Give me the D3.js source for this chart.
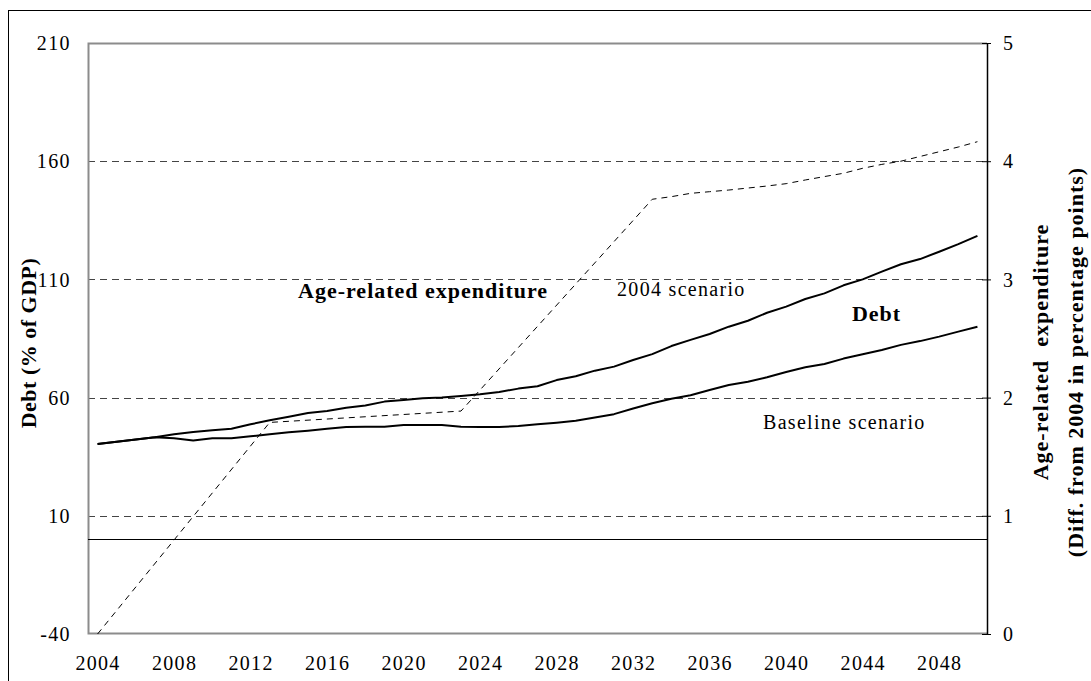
<!DOCTYPE html>
<html>
<head>
<meta charset="utf-8">
<script src="https://cdn.jsdelivr.net/npm/d3@7"></script>
<style>
  body { margin: 0; background: #fff; }
  svg text { font-family: "Liberation Serif", "Times New Roman", serif; fill: #000; }
</style>
</head>
<body>
<div id="plot_area"></div>
<script>
// data
var years = d3.range(2004, 2051);
var tickYears = [2004, 2008, 2012, 2016, 2020, 2024, 2028, 2032, 2036, 2040, 2044, 2048];
var debtTicks = [-40, 10, 60, 110, 160, 210];
var expTicks = [0, 1, 2, 3, 4, 5];

// debt, 2004 scenario (% of GDP)
var debt2004 = [40.4, 41.3, 42.3, 43.2, 44.5, 45.4, 46.2, 46.8, 48.7, 50.4,
  51.9, 53.5, 54.3, 55.7, 56.7, 58.3, 59.0, 59.7, 60.0, 60.7,
  61.4, 62.4, 63.8, 64.8, 67.4, 69.0, 71.4, 73.1, 75.9, 78.4,
  81.8, 84.4, 86.9, 90.0, 92.5, 95.9, 98.5, 101.7, 104.1, 107.5,
  110.0, 113.3, 116.4, 118.6, 121.7, 124.9, 128.4];

// debt, baseline scenario (% of GDP)
var debtBase = [40.4, 41.3, 42.3, 43.2, 42.8, 41.9, 42.8, 42.8, 43.6, 44.5,
  45.3, 46.0, 46.8, 47.6, 47.7, 47.7, 48.4, 48.4, 48.4, 47.7,
  47.6, 47.6, 48.0, 48.7, 49.4, 50.2, 51.6, 53.0, 55.4, 57.6,
  59.5, 61.0, 63.2, 65.3, 66.7, 68.6, 70.8, 72.8, 74.2, 76.5,
  78.3, 80.1, 82.3, 83.9, 85.8, 87.9, 90.0];

var expYears = [2004, 2013, 2023, 2033, 2034, 2035, 2036, 2037, 2038, 2039, 2040,
  2041, 2042, 2043, 2044, 2045, 2046, 2047, 2048, 2049, 2050];
var expValues = [0, 1.79, 1.886, 3.678, 3.70, 3.728, 3.742, 3.756, 3.773, 3.79, 3.81,
  3.841, 3.87, 3.898, 3.94, 3.973, 4.00, 4.04, 4.08, 4.12, 4.165];

var W = 1091, H = 681;
var margin = {top: 43, right: 104, bottom: 47, left: 88};
var width = W - margin.left - margin.right,
    height = H - margin.top - margin.bottom;

var svg = d3.select('#plot_area')
  .append("svg")
    .attr("width", W)
    .attr("height", H);

// outer frame (runs past right and bottom edges)
svg.append("rect")
  .attr("x", 8.5).attr("y", 10.5)
  .attr("width", 1100).attr("height", 700)
  .attr("fill", "none").attr("stroke", "#000").attr("stroke-width", 1);

var g = svg.append("g")
  .attr("transform", "translate(" + margin.left + "," + margin.top + ")");

var x = d3.scalePoint()
  .domain(years)
  .range([0, width])
  .padding(0.5);

// continuous year scale for the text labels
var xl = d3.scaleLinear()
  .domain([2003.5, 2050.5])
  .range([0, width]);

var yL = d3.scaleLinear().domain([-40, 210]).range([height, 0]);
var yR = d3.scaleLinear().domain([0, 5]).range([height, 0]);

// dashed gridlines
g.append("g")
  .selectAll("line")
  .data(debtTicks.filter(function (d) { return d > -40 && d < 210; }))
  .enter().append("line")
    .attr("x1", 0).attr("x2", width)
    .attr("y1", function (d) { return Math.round(yL(d)) + 0.5; })
    .attr("y2", function (d) { return Math.round(yL(d)) + 0.5; })
    .attr("stroke", "#444")
    .attr("stroke-dasharray", "7,5");

// plot area border (grey)
g.append("path")
  .attr("d", "M" + width + ",0.5H0.5V" + (height - 0.5) + "H" + width)
  .attr("fill", "none")
  .attr("stroke", "#8c8c8c")
  .attr("stroke-width", 2);

// zero line
g.append("line")
  .attr("x1", 0).attr("x2", width)
  .attr("y1", Math.round(yL(0)) + 0.5).attr("y2", Math.round(yL(0)) + 0.5)
  .attr("stroke", "#000").attr("stroke-width", 1);

// left axis labels
g.append("g")
  .call(d3.axisLeft(yL).tickValues(debtTicks).tickSize(0).tickPadding(17)
    .tickFormat(function (d) { return String(d); }))
  .call(function (s) { s.select(".domain").remove(); })
  .selectAll("text")
    .style("font-size", "20px")
    .style("letter-spacing", "1.4px")
    .attr("dy", "0.33em");

// right axis
var ra = g.append("g")
  .attr("transform", "translate(" + width + ",0)")
  .call(d3.axisRight(yR).tickValues(expTicks).tickSize(4).tickPadding(12)
    .tickFormat(function (d) { return String(d); }));
ra.select(".domain").attr("stroke", "#000").attr("stroke-width", 1.5)
  .attr("d", "M0.5,0V" + height);
ra.selectAll(".tick line").attr("x1", -5).attr("x2", 4).attr("stroke", "#000");
ra.selectAll("text")
  .style("font-size", "20px")
  .attr("dy", "0.33em");

// bottom axis labels
g.append("g")
  .attr("transform", "translate(0," + height + ")")
  .call(d3.axisBottom(x).tickValues(tickYears).tickSize(0).tickPadding(22))
  .call(function (s) { s.select(".domain").remove(); })
  .selectAll("text")
    .style("font-size", "20px")
    .style("letter-spacing", "1.3px")
    .attr("dy", "0.71em");

// debt lines
var lineL = d3.line()
  .x(function (d) { return x(d[0]); })
  .y(function (d) { return yL(d[1]); });

[debtBase, debt2004].forEach(function (s) {
  g.append("path")
    .datum(d3.zip(years, s))
    .attr("fill", "none")
    .attr("stroke", "#000")
    .attr("stroke-width", 2)
    .attr("stroke-linejoin", "round")
    .attr("d", lineL);
});

// age-related expenditure (dashed, right axis)
var lineR = d3.line()
  .x(function (d) { return x(d[0]); })
  .y(function (d) { return yR(d[1]); });

g.append("path")
  .datum(d3.zip(expYears, expValues))
  .attr("fill", "none")
  .attr("stroke", "#000")
  .attr("stroke-width", 1)
  .attr("stroke-dasharray", "6,5")
  .attr("d", lineR);

// in-chart labels
var notes = [
  {text: "Age-related expenditure", year: 2014.48, v: 102.1, bold: true},
  {text: "2004 scenario", year: 2031.16, v: 103.0, bold: false},
  {text: "Debt", year: 2043.44, v: 92.4, bold: true},
  {text: "Baseline scenario", year: 2038.79, v: 46.7, bold: false}
];
g.selectAll(".note")
  .data(notes)
  .enter().append("text")
    .attr("class", "note")
    .attr("x", function (d) { return xl(d.year); })
    .attr("y", function (d) { return yL(d.v); })
    .style("font-size", function (d) { return d.bold ? "22px" : "20px"; })
    .style("font-weight", function (d) { return d.bold ? "bold" : "normal"; })
    .style("letter-spacing", function (d) { return d.bold ? "1px" : "1.3px"; })
    .text(function (d) { return d.text; });

// axis titles
svg.append("text")
  .attr("transform", "translate(36,343) rotate(-90)")
  .attr("text-anchor", "middle")
  .style("font-size", "22px")
  .style("font-weight", "bold")
  .style("letter-spacing", "0.5px")
  .text("Debt (% of GDP)");

svg.append("text")
  .attr("transform", "translate(1048,352) rotate(-90)")
  .attr("text-anchor", "middle")
  .style("font-size", "22px")
  .style("font-weight", "bold")
  .style("letter-spacing", "1px")
  .style("white-space", "pre")
  .text("Age-related  expenditure");

svg.append("text")
  .attr("transform", "translate(1083,362) rotate(-90)")
  .attr("text-anchor", "middle")
  .style("font-size", "22px")
  .style("font-weight", "bold")
  .style("letter-spacing", "1px")
  .text("(Diff. from 2004 in percentage points)");
</script>
</body>
</html>
